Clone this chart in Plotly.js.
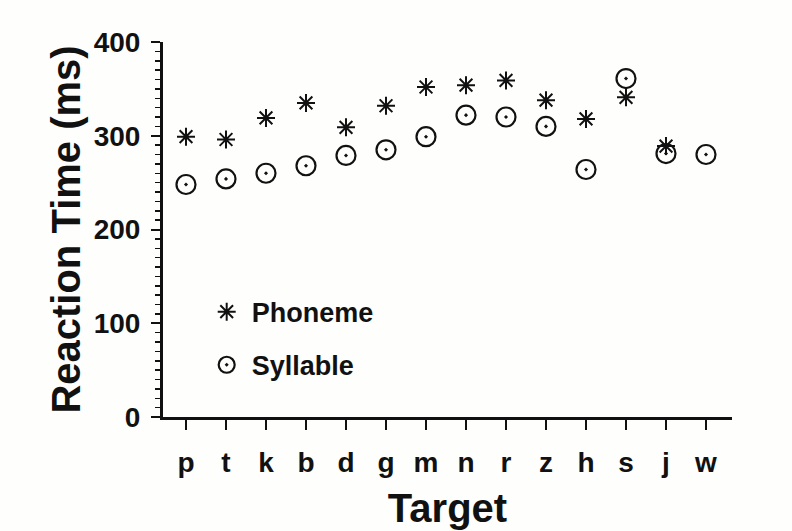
<!DOCTYPE html>
<html>
<head>
<meta charset="utf-8">
<script src="https://cdn.plot.ly/plotly-3.0.1.min.js"></script>
<style>html,body{margin:0;padding:0;background:#fefefc;}#chart{width:792px;height:531px;}</style>
</head>
<body>
<div id="chart"></div>
<script>
var categories = ['p','t','k','b','d','g','m','n','r','z','h','s','j','w'];
var phoneme = [299, 296, 319, 335, 309, 332, 352, 354, 359, 338, 318, 341, 289, null];
var syllable = [248, 254, 260, 268, 279, 285, 299, 322, 320, 310, 264, 361, 281, 280];
var yTickVals = [0, 100, 200, 300, 400];

var FONT = 'Liberation Sans, Arial, Helvetica, sans-serif';

var traces = [
  {
    x: categories, y: phoneme, name: 'Phoneme', type: 'scatter', mode: 'markers',
    legendgroup: 'a',
    marker: {symbol: 'asterisk-open', size: 15, color: '#111', line: {color: '#111', width: 2}}
  },
  {
    x: categories, y: syllable, name: 'Syllable', type: 'scatter', mode: 'markers',
    legendgroup: 'b',
    marker: {symbol: 'circle-open-dot', size: 19, color: '#111', line: {color: '#111', width: 2.2}}
  }
];

var layout = {
  width: 792, height: 531,
  paper_bgcolor: '#fefefc', plot_bgcolor: '#fefefc',
  margin: {l: 163, r: 60, t: 42, b: 114},
  font: {family: FONT, color: '#111'},
  showlegend: true,
  legend: {
    x: 0.068, y: 0.345, xanchor: 'left', yanchor: 'top',
    bgcolor: 'rgba(0,0,0,0)', traceorder: 'grouped', tracegroupgap: 15,
    itemwidth: 40,
    font: {family: FONT, size: 27, color: '#111', weight: 'bold'},
    itemsizing: 'trace'
  },
  xaxis: {
    type: 'category',
    range: [-0.575, 13.65],
    showgrid: false, zeroline: false,
    showline: true, linecolor: '#111', linewidth: 3,
    ticks: 'outside', ticklen: 10, tickwidth: 2, tickcolor: '#111',
    ticklabelstandoff: 8,
    tickfont: {family: FONT, size: 28, color: '#111', weight: 'bold'},
    title: {text: 'Target', font: {family: FONT, size: 40, color: '#111', weight: 'bold'}, standoff: 18}
  },
  yaxis: {
    range: [0, 400],
    tickvals: yTickVals,
    showgrid: false, zeroline: false,
    showline: true, linecolor: '#111', linewidth: 3,
    ticks: 'outside', ticklen: 9, tickwidth: 2, tickcolor: '#111',
    minor: {dtick: 10, ticks: 'outside', ticklen: 5, tickwidth: 1.5, tickcolor: '#111', showgrid: false},
    ticklabelstandoff: 5,
    tickfont: {family: FONT, size: 28, color: '#111', weight: 'bold'},
    title: {text: 'Reaction Time (ms)', font: {family: FONT, size: 40, color: '#111', weight: 'bold'}, standoff: 1}
  }
};

Plotly.newPlot('chart', traces, layout, {displayModeBar: false, staticPlot: true});
</script>
</body>
</html>
